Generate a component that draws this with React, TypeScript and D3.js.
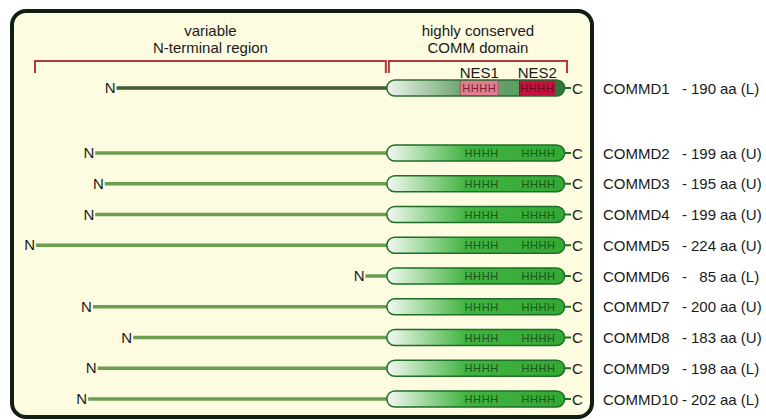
import React from "react";
import * as d3 from "d3";

// proteins, length in amino acids, and the (L)/(U) tag
const proteins = ["COMMD1", "COMMD2", "COMMD3", "COMMD4", "COMMD5", "COMMD6", "COMMD7", "COMMD8", "COMMD9", "COMMD10"];
const lengths = [190, 199, 195, 199, 224, 85, 200, 183, 198, 202];
const tags = ["L", "U", "U", "U", "U", "L", "U", "U", "L", "L"];

// residues counted from the C-terminus
const commDomain: [number, number] = [76, 1];
const helixCenters = [36, 12];
const nesRanges: [number, number][] = [[45, 29], [20, 5]];
const nesLabels = ["NES1", "NES2"];
const regionTitles = [["variable", "N-terminal region"], ["highly conserved", "COMM domain"]];

const W = 766;
const H = 420;
const FONT = "'Liberation Sans', Arial, Helvetica, sans-serif";

export default function App() {
  // residue offset from C-terminus -> pixel x
  const x = d3.scaleLinear().domain([0, 224]).range([567, 36]);
  const y = d3.scalePoint<string>().domain(proteins.slice(1)).range([153, 399]);
  const yOf = (p: string) => (p === proteins[0] ? 88 : (y(p) as number));

  const px0 = x(commDomain[0]);
  const px1 = x(commDomain[1]);
  const pillH = 16;
  const r = pillH / 2;

  const pill = (cy: number) =>
    `M${px0 + r},${cy - r} H${px1 - r} A${r},${r} 0 0 1 ${px1 - r},${cy + r} H${px0 + r} A${r},${r} 0 0 1 ${px0 + r},${cy - r} Z`;

  const brackets = [
    [x(224) - 1, px0 - 1],
    [px0 + 2, x(0)],
  ];

  return (
    <svg width={W} height={H} style={{ position: "absolute", left: 0, top: 0 }} fontFamily={FONT}>
      <defs>
        <linearGradient id="gGreen" gradientUnits="userSpaceOnUse" x1={px0} x2={px1} y1={0} y2={0}>
          <stop offset="0" stopColor="#f4f9f1" />
          <stop offset="0.45" stopColor="#40b340" />
          <stop offset="1" stopColor="#34a834" />
        </linearGradient>
        <linearGradient id="gDull" gradientUnits="userSpaceOnUse" x1={px0} x2={px1} y1={0} y2={0}>
          <stop offset="0" stopColor="#eef4ec" />
          <stop offset="0.42" stopColor="#6da56f" />
          <stop offset="1" stopColor="#4f9a5a" />
        </linearGradient>
        <clipPath id="clip1">
          <path d={pill(yOf(proteins[0]))} />
        </clipPath>
      </defs>

      <rect x={12} y={11} width={580} height={406} rx={14} fill="#fdfbe0" stroke="#0f1f12" strokeWidth={4} />

      {regionTitles.map((t, i) => {
        const cx = (brackets[i][0] + brackets[i][1]) / 2;
        return (
          <g key={i} fontSize={15} fill="#1a1a1a" textAnchor="middle">
            <text x={cx} y={36}>{t[0]}</text>
            <text x={cx} y={53}>{t[1]}</text>
            <path
              d={`M${brackets[i][0]},73 V61 H${brackets[i][1]} V73`}
              fill="none"
              stroke="#b23b3b"
              strokeWidth={2}
            />
          </g>
        );
      })}

      {proteins.map((p, i) => {
        const cy = yOf(p);
        const first = i === 0;
        return (
          <g key={p}>
            <line
              x1={x(lengths[i])}
              x2={px0 + 2}
              y1={cy}
              y2={cy}
              stroke={first ? "#3d5c2f" : "#6c9e52"}
              strokeWidth={3.5}
            />
            <text x={x(lengths[i]) - 1} y={cy + 5} textAnchor="end" fontSize={15} fill="#1a1a1a">N</text>
            <line x1={px1 - 1} x2={x(0) + 4} y1={cy} y2={cy} stroke="#1e6e28" strokeWidth={2} />
            <text x={x(0) + 5} y={cy + 5.5} fontSize={15} fill="#1a1a1a">C</text>

            {first ? (
              <g>
                <g clipPath="url(#clip1)">
                  <rect x={px0} y={cy - r} width={px1 - px0} height={pillH} fill="url(#gDull)" />
                  {nesRanges.map((d, k) => (
                    <rect
                      key={k}
                      x={x(d[0])}
                      y={cy - r}
                      width={x(d[1]) - x(d[0])}
                      height={pillH}
                      fill={k === 0 ? "#e07e8e" : "#c4123e"}
                      stroke={k === 0 ? "#a9586a" : "#8e0c2c"}
                      strokeWidth={1}
                    />
                  ))}
                  <rect x={x(nesRanges[1][1])} y={cy - r} width={px1 - x(nesRanges[1][1])} height={pillH} fill="#2d7a38" />
                </g>
                <path d={pill(cy)} fill="none" stroke="#2c6a34" strokeWidth={1.5} />
                {nesRanges.map((d, k) => (
                  <text
                    key={k}
                    x={(x(d[0]) + x(d[1])) / 2}
                    y={cy + 4}
                    textAnchor="middle"
                    fontSize={11}
                    letterSpacing={0.6}
                    fill={k === 0 ? "#7a1f30" : "#6e0a22"}
                  >
                    HHHH
                  </text>
                ))}
                {nesRanges.map((d, k) => (
                  <text
                    key={"l" + k}
                    x={(x(d[0]) + x(d[1])) / 2}
                    y={cy - 10}
                    textAnchor="middle"
                    fontSize={15}
                    fill="#1a1a1a"
                  >
                    {nesLabels[k]}
                  </text>
                ))}
              </g>
            ) : (
              <g>
                <path d={pill(cy)} fill="url(#gGreen)" stroke="#1e6e28" strokeWidth={1.5} />
                {helixCenters.map((h, k) => (
                  <text
                    key={k}
                    x={x(h)}
                    y={cy + 4}
                    textAnchor="middle"
                    fontSize={11}
                    letterSpacing={0.6}
                    fill="#1b561b"
                  >
                    HHHH
                  </text>
                ))}
              </g>
            )}

            <g fontSize={15} fill="#1a1a1a">
              <text x={603} y={cy + 5.5}>{p}</text>
              <text x={682} y={cy + 5.5}>-</text>
              <text x={716} y={cy + 5.5} textAnchor="end">{lengths[i]}</text>
              <text x={720} y={cy + 5.5}>{`aa (${tags[i]})`}</text>
            </g>
          </g>
        );
      })}
    </svg>
  );
}
